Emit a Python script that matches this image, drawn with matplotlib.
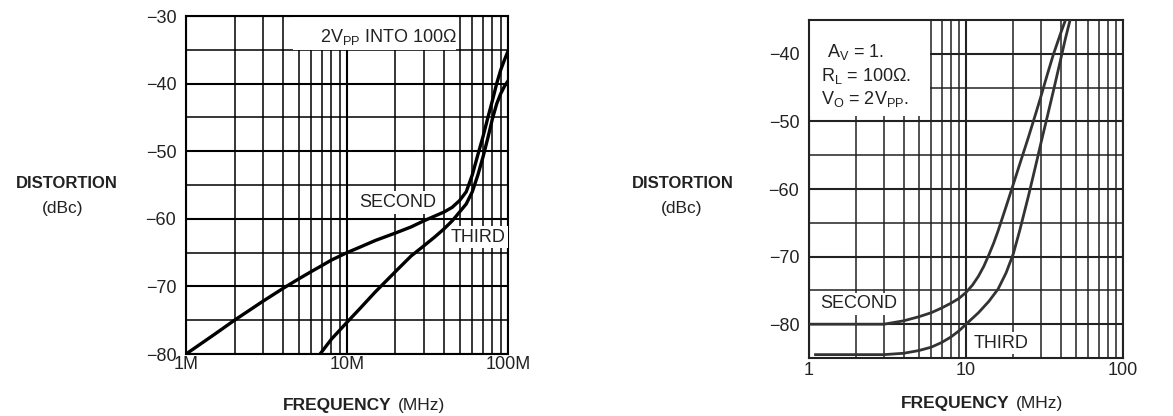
import matplotlib
matplotlib.use("Agg")
import matplotlib.pyplot as plt
from matplotlib.patches import Rectangle

plt.rcParams['font.family'] = ['Liberation Sans', 'DejaVu Sans']
plt.rcParams['mathtext.default'] = 'regular'

# left chart: 2Vpp into 100 ohm, frequency in MHz
left_second_f = [1, 1.5, 2, 3, 4, 5, 6, 7, 8, 10, 12, 15, 20, 25, 30, 35, 40, 45,
                 50, 55, 60, 65, 70, 75, 80, 85, 90, 95, 100]
left_second_db = [-80, -77.1, -75.0, -72.2, -70.3, -68.9, -67.8, -66.9, -66.1, -65.0,
                  -64.2, -63.2, -62.1, -61.2, -60.3, -59.6, -59.0, -58.3,
                  -57.3, -56.0, -53.5, -50.5, -47.8, -45.0, -42.5, -40.0, -38.0, -36.5, -35.2]
left_third_f = [6.8, 8, 10, 12, 15, 20, 25, 30, 35, 40, 45, 50, 55, 60, 65, 70, 75,
                80, 85, 90, 95, 100]
left_third_db = [-80, -77.8, -75.3, -73.3, -70.8, -67.8, -65.5, -64.0, -62.7, -61.5,
                 -60.3, -59.0, -57.8, -56.0, -53.5, -50.8, -48.0, -45.2, -43.0,
                 -41.5, -40.4, -39.6]

# right chart: Av = 1, RL = 100 ohm, Vo = 2Vpp
right_second_f = [1, 2, 3, 4, 5, 6, 7, 8, 9, 10, 11, 12, 13, 14, 15, 16, 18, 20, 22,
                  25, 28, 30, 33, 36, 40, 43]
right_second_db = [-80, -80, -80, -79.5, -78.9, -78.3, -77.6, -76.9, -76.2, -75.3,
                   -74.2, -72.9, -71.4, -69.7, -68.0, -66.2, -62.6, -59.3, -56.3,
                   -52.3, -48.6, -46.3, -43.0, -40.1, -37.0, -35.0]
right_third_f = [1.1, 2, 3, 4, 5, 6, 7, 8, 9, 10, 12, 14, 16, 18, 20, 22, 25, 28, 30,
                 33, 36, 40, 43, 46]
right_third_db = [-84.5, -84.5, -84.5, -84.3, -83.9, -83.4, -82.7, -81.9, -81.0, -80.0,
                  -78.3, -76.6, -74.8, -72.4, -69.6, -66.1, -61.0, -56.2, -53.2,
                  -49.2, -45.5, -40.9, -37.7, -35.0]

left_xticks = [1, 10, 100]
left_xlabels = ['1M', '10M', '100M']
left_yticks = [-80, -70, -60, -50, -40, -30]
right_xticks = [1, 10, 100]
right_xlabels = ['1', '10', '100']
right_yticks = [-80, -70, -60, -50, -40]

fig = plt.figure(figsize=(11.73, 4.16), dpi=100)
ax1 = fig.add_axes([0.1586, 0.149, 0.2745, 0.8125])
ax2 = fig.add_axes([0.6897, 0.1394, 0.2677, 0.8125])


def setup(ax, ylim, yticks, xticks, xlabels, gcol, label_pad):
    ax.set_xscale('log')
    ax.set_xlim(1, 100)
    ax.set_ylim(*ylim)
    ax.set_xticks(xticks)
    ax.set_xticklabels(xlabels)
    ax.set_xticks([k * d for d in (1, 10) for k in range(2, 10)], minor=True)
    ax.set_xticklabels([], minor=True)
    ax.set_yticks(yticks)
    ax.set_yticklabels(['\u2212' + str(abs(v)) for v in yticks])
    ax.set_yticks(list(range(ylim[0], ylim[1] + 1, 5)), minor=True)
    ax.set_axisbelow(True)
    ax.grid(which='major', color=gcol, lw=1.5)
    ax.grid(which='minor', color=gcol, lw=1.1)
    ax.tick_params(which='both', length=0, labelsize=13, colors='#222222')
    ax.tick_params(axis='x', pad=label_pad)
    ax.tick_params(axis='y', pad=7)
    for s in ax.spines.values():
        s.set_color(gcol)
        s.set_linewidth(1.5)


setup(ax1, (-80, -30), left_yticks, left_xticks, left_xlabels, 'black', 1.5)
setup(ax2, (-85, -35), right_yticks, right_xticks, right_xlabels, '#222222', 3)

ax1.plot(left_second_f, left_second_db, color='black', lw=2.4, zorder=4)
ax1.plot(left_third_f, left_third_db, color='black', lw=2.4, zorder=4)
ax2.plot(right_second_f, right_second_db, color='#333333', lw=2.0, zorder=4)
ax2.plot(right_third_f, right_third_db, color='#333333', lw=2.0, zorder=4)

box = dict(facecolor='white', edgecolor='none', pad=2)
tkw = dict(fontsize=13, color='#222222', ha='center', va='center', zorder=3)

# left annotations
ax1.add_patch(Rectangle((0.333, 0.9), 0.505, 0.1, transform=ax1.transAxes,
                        facecolor='white', edgecolor='none', zorder=2))
ax1.text(18.0, -33.1, '2V$_{PP}$ INTO 100\u03a9', **tkw)
ax1.text(20.5, -57.6, 'SECOND', bbox=box, **tkw)
ax1.text(65, -62.7, 'THIRD', bbox=box, **tkw)

# right annotations
ax2.add_patch(Rectangle((0, 0.715), 0.385, 0.285, transform=ax2.transAxes,
                        facecolor='white', edgecolor='none', zorder=2))
lkw = dict(fontsize=13, color='#222222', ha='left', va='center', zorder=3)
ax2.text(1.31, -39.7, 'A$_{V}$ = 1.', **lkw)
ax2.text(1.2, -43.3, 'R$_{L}$ = 100\u03a9.', **lkw)
ax2.text(1.2, -46.7, 'V$_{O}$ = 2V$_{PP}$.', **lkw)
ax2.text(2.08, -77.0, 'SECOND', bbox=box, **tkw)
ax2.text(16.7, -82.8, 'THIRD', bbox=box, **tkw)

# axis titles
for xd, xb in ((0.057, 0.053), (0.582, 0.5815)):
    fig.text(xd, 0.56, 'DISTORTION', fontsize=12, fontweight='bold',
             color='#222222', ha='center', va='center')
    fig.text(xb, 0.50, '(dBc)', fontsize=12.5, color='#222222', ha='center', va='center')
for xr, yy in ((0.334, 0.026), (0.861, 0.031)):
    fig.text(xr, yy, 'FREQUENCY', fontsize=12.5, fontweight='bold', color='#222222',
             ha='right', va='center')
    fig.text(xr + 0.005, yy, '(MHz)', fontsize=12.5, color='#222222', ha='left', va='center')

fig.savefig('out.png', dpi=100, facecolor='white')
